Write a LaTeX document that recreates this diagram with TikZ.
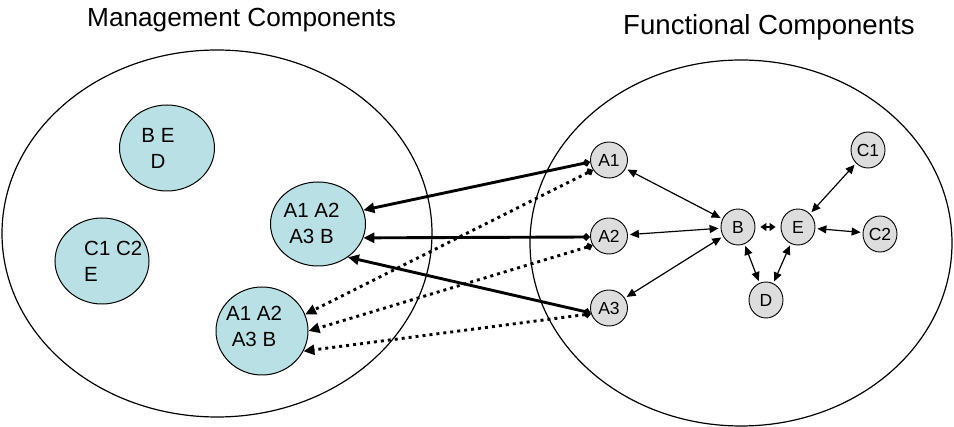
\documentclass[tikz,border=0pt]{standalone}
\usepackage{fontspec}
\setmainfont{Liberation Sans}
\usetikzlibrary{arrows.meta,shapes.geometric}
\definecolor{tealfill}{RGB}{185,224,228}
\definecolor{grayfill}{RGB}{221,221,221}
\begin{document}
\begin{tikzpicture}[x=1pt,y=-1pt,
  area/.style={draw, line width=1.2pt, ellipse, inner sep=0pt},
  mgmt/.style={draw, line width=1pt, ellipse, fill=tealfill, inner sep=0pt},
  mtext/.style={font=\fontsize{20.5}{26}\selectfont, align=center, inner sep=0pt},
  func/.style={draw, line width=0.9pt, ellipse, fill=grayfill, inner sep=0pt,
    minimum width=34pt, minimum height=36pt, font=\fontsize{17.5}{20}\selectfont},
  titletext/.style={anchor=base west, inner sep=0pt},
  strong/.style={line width=2.9pt,
    {Diamond[length=8pt,width=8pt]}-{Triangle[length=11pt,width=10pt]}},
  weak/.style={line width=2.9pt, dash pattern=on 3pt off 4pt,
    {Diamond[length=8pt,width=8pt]}-{Triangle[length=11pt,width=10pt]}},
  link/.style={line width=1.2pt,
    {Triangle[length=9pt,width=8pt]}-{Triangle[length=9pt,width=8pt]},
    shorten <=2pt, shorten >=2pt},
  shortlink/.style={line width=1.2pt,
    {Triangle[length=6pt,width=8pt]}-{Triangle[length=6pt,width=8pt]},
    shorten <=5pt, shorten >=5pt}]
\useasboundingbox (0,0) rectangle (954,427);

% titles
\node[titletext, font=\fontsize{26.2}{30}\selectfont] (t1) at (87,27) {Management Components};
\node[titletext, font=\fontsize{27.6}{30}\selectfont] (t2) at (623,35) {Functional Components};

% big areas
\node[area, minimum width=430pt, minimum height=367pt] (marea) at (217,233.5) {};
\node[area, minimum width=422pt, minimum height=366pt] (farea) at (741,243) {};

% management components
\node[mgmt, minimum width=95pt, minimum height=86pt] (M0) at (167,148) {};
\node[mtext] (M0t) at (158,148) {B E\\D};
\node[mgmt, minimum width=94pt, minimum height=86pt] (MC) at (102,261) {};
\node[mtext, align=left, anchor=west] (MCt) at (84,261.5) {C1 C2\\E};
\node[mgmt, minimum width=95pt, minimum height=84pt] (M1) at (318,224) {};
\node[mtext] (M1t) at (311.5,223) {A1 A2\\A3 B};
\node[mgmt, minimum width=92pt, minimum height=88pt] (M2) at (262,331) {};
\node[mtext] (M2t) at (254,326) {A1 A2\\A3 B};

% functional components
\node[func, minimum width=37pt] (A1) at (609,160) {A1};
\node[func, minimum width=37pt] (A2) at (609,236) {A2};
\node[func, minimum width=37pt] (A3) at (609,308) {A3};
\node[func] (B) at (738,227) {B};
\node[func] (E) at (798,227) {E};
\node[func] (C1) at (868,150) {C1};
\node[func] (C2) at (880,234) {C2};
\node[func] (D) at (766,300) {D};

% management links
\draw[strong] (A1.186) -- (M1.17);
\draw[strong] (A2.183) -- (M1.-17);
\draw[strong] (A3.195) -- (M1.-48);
\draw[weak] (A1.212) -- (M2.21);
\draw[weak] (A2.210) -- (M2.0);
\draw[weak] (A3.198) -- (M2.-26);

% functional links
\draw[link] (A1) -- (B);
\draw[link] (A2) -- (B);
\draw[link] (A3) -- (B);
\draw[shortlink] (B) -- (E);
\draw[link] (B) -- (D);
\draw[link] (E) -- (D);
\draw[link] (E) -- (C1);
\draw[link] (E) -- (C2);
\end{tikzpicture}
\end{document}
